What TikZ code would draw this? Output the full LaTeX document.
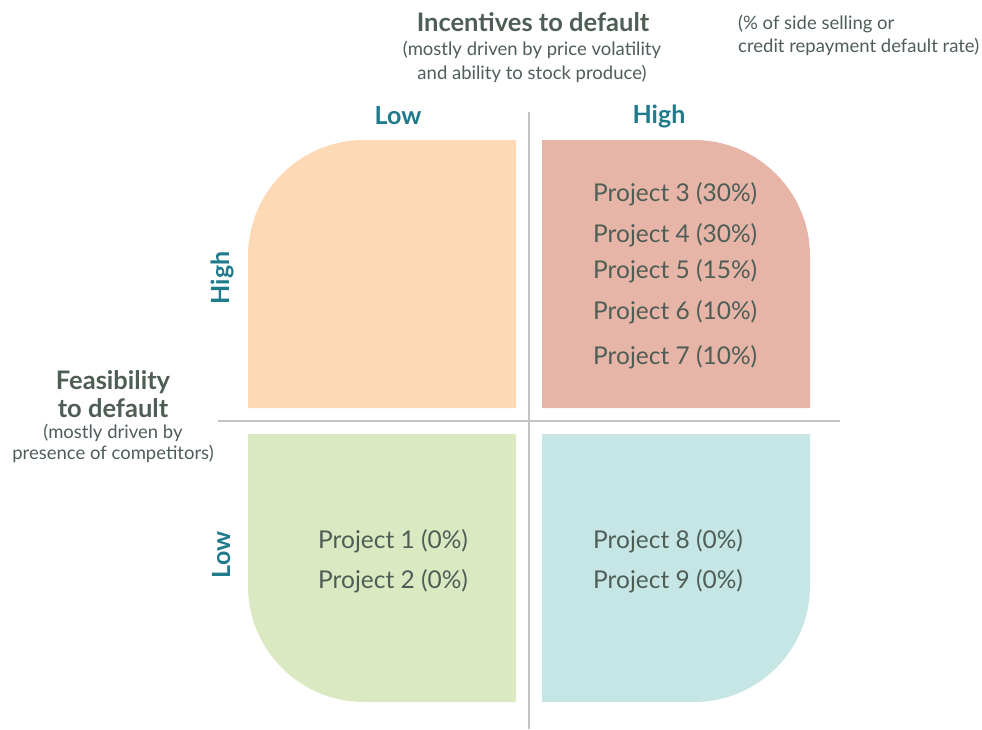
\documentclass[tikz,border=0pt]{standalone}
\usepackage{fontspec}
\setmainfont{Lato}
\definecolor{txt}{HTML}{4E5E55}
\definecolor{teal}{HTML}{1F7A8C}
\definecolor{qorange}{HTML}{FDDAB5}
\definecolor{qred}{HTML}{E6B5A8}
\definecolor{qgreen}{HTML}{DBE9C3}
\definecolor{qblue}{HTML}{C6E6E5}
\definecolor{axisgray}{HTML}{C4C4C4}
\begin{document}
\begin{tikzpicture}[x=1pt,y=-1pt,
  proj/.style={anchor=west,text=txt,font=\fontsize{24.5}{26}\selectfont,inner sep=0pt},
  head/.style={text=txt,font=\fontsize{25.5}{27}\selectfont\bfseries,inner sep=0pt},
  sub/.style={text=txt,font=\fontsize{18.5}{20}\selectfont,inner sep=0pt},
  lvl/.style={text=teal,font=\fontsize{25}{27}\selectfont\bfseries,inner sep=0pt},
  axis/.style={draw=axisgray,line width=1.5pt}]
\useasboundingbox (0,0) rectangle (982,729);
% quadrants
\fill[qorange] (516,408) -- (248,408) [rounded corners=116pt] -- (248,140) [sharp corners] -- (516,140) -- cycle;
\fill[qred] (542,408) -- (542,140) [rounded corners=116pt] -- (810,140) [sharp corners] -- (810,408) -- cycle;
\fill[qgreen] (516,434) -- (248,434) [rounded corners=116pt] -- (248,702) [sharp corners] -- (516,702) -- cycle;
\fill[qblue] (542,434) -- (542,702) [rounded corners=116pt] -- (810,702) [sharp corners] -- (810,434) -- cycle;
% axes
\coordinate (vt) at (529,112);
\coordinate (vb) at (529,729);
\coordinate (hl) at (218,421);
\coordinate (hr) at (840,421);
\draw[axis] (vt) -- (vb);
\draw[axis] (hl) -- (hr);
% top headings
\node[head] (inc) at (533,22) {Incentives to default};
\node[sub] (inc1) at (532,50) {(mostly driven by price volatility};
\node[sub] (inc2) at (532,74) {and ability to stock produce)};
\node[sub,anchor=west] (pct1) at (738,24) {(\% of side selling or};
\node[sub,anchor=west] (pct2) at (738,47) {credit repayment default rate)};
\node[lvl] (lowx) at (398,116) {Low};
\node[lvl] (highx) at (659,116) {High};
\node[lvl,rotate=90] (highy) at (222,278) {High};
\node[lvl,rotate=90] (lowy) at (222,555) {Low};
% left heading
\node[head] (fea1) at (113,382) {Feasibility};
\node[head] (fea2) at (113,408) {to default};
\node[sub] (fea3) at (113,433) {(mostly driven by};
\node[sub] (fea4) at (113,454) {presence of competitors)};
% projects
\node[proj] (p3) at (593,194) {Project 3 (30\%)};
\node[proj] (p4) at (593,235) {Project 4 (30\%)};
\node[proj] (p5) at (593,271) {Project 5 (15\%)};
\node[proj] (p6) at (593,312) {Project 6 (10\%)};
\node[proj] (p7) at (593,357) {Project 7 (10\%)};
\node[proj] (p1) at (318,541) {Project 1 (0\%)};
\node[proj] (p2) at (318,581) {Project 2 (0\%)};
\node[proj] (p8) at (593,541) {Project 8 (0\%)};
\node[proj] (p9) at (593,581) {Project 9 (0\%)};
\end{tikzpicture}
\end{document}
